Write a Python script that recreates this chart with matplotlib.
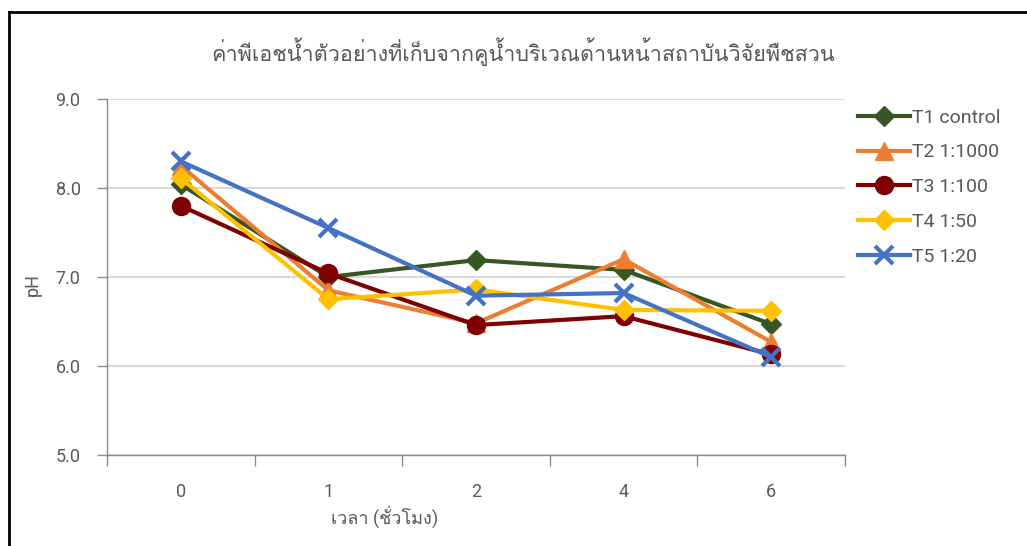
import matplotlib
matplotlib.use("Agg")
import matplotlib.pyplot as plt
from matplotlib import font_manager as fm
from matplotlib.ft2font import FT2Font
from matplotlib.lines import Line2D

# ---------------- data ----------------
categories = ["0", "1", "2", "4", "6"]
series_names = ["T1 control", "T2 1:1000", "T3 1:100", "T4 1:50", "T5 1:20"]
t1_control = [8.04, 7.00, 7.19, 7.08, 6.47]
t2_1000 = [8.25, 6.85, 6.48, 7.20, 6.27]
t3_100 = [7.80, 7.04, 6.46, 6.56, 6.13]
t4_50 = [8.11, 6.75, 6.86, 6.63, 6.62]
t5_20 = [8.30, 7.55, 6.79, 6.82, 6.10]
title_text = "ค่าพีเอชน้ำตัวอย่างที่เก็บจากคูน้ำบริเวณด้านหน้าสถาบันวิจัยพืชสวน"
xlabel_text = "เวลา (ชั่วโมง)"
ylabel_text = "pH"
yticks = [5.0, 6.0, 7.0, 8.0, 9.0]

# ---------------- fonts ----------------
thai_fam = None
for f in fm.fontManager.ttflist:
    try:
        cmap = FT2Font(f.fname).get_charmap()
    except Exception:
        continue
    if 0x0E04 in cmap and 0x0E49 in cmap and 0x0E33 in cmap:
        thai_fam = f.name
        break
fams = ["Roboto"]
if thai_fam:
    fams.append(thai_fam)
fams.append("DejaVu Sans")
plt.rcParams["font.family"] = fams

GRAY = "#595959"
AX_GRAY = "#8c8c8c"
GRID = "#d9d9d9"

fig = plt.figure(figsize=(10.27, 5.46), dpi=100)
ax = fig.add_axes([107 / 1027, 1 - 455 / 546, 738 / 1027, 356 / 546])

styles = [
    dict(color="#375623", marker="D", ms=10),
    dict(color="#ED7D31", marker="^", ms=13),
    dict(color="#7F0000", marker="o", ms=13),
    dict(color="#FFC000", marker="D", ms=10),
    dict(color="#4472C4", marker="x", ms=13, mew=3),
]
data = [t1_control, t2_1000, t3_100, t4_50, t5_20]
xs = list(range(len(categories)))
handles = []
for i, (name, vals, st) in enumerate(zip(series_names, data, styles)):
    kw = dict(st)
    mew = kw.pop("mew", 1)
    h, = ax.plot(xs, vals, color=kw["color"], marker=kw["marker"], ms=kw["ms"],
                 mec=kw["color"], mfc=kw["color"], mew=mew, lw=3, label=name,
                 zorder=3 + i, solid_joinstyle="round", clip_on=False)
    handles.append(h)

ax.set_xlim(-0.5, len(categories) - 0.5)
ax.set_ylim(5.0, 9.0)
ax.set_yticks(yticks)
ax.set_yticklabels([f"{v:.1f}" for v in yticks])
ax.set_xticks(xs)
ax.set_xticklabels(categories)
ax.set_xticks([x - 0.5 for x in range(len(categories) + 1)], minor=True)
ax.tick_params(axis="x", which="major", length=0, pad=20, labelsize=13, labelcolor=GRAY)
ax.tick_params(axis="x", which="minor", length=8, width=1, color=AX_GRAY, direction="out")
ax.tick_params(axis="y", which="major", length=7, width=1, color=AX_GRAY, direction="out",
               labelsize=13, labelcolor=GRAY, pad=12)
ax.yaxis.grid(True, color=GRID, lw=1.5)
ax.set_axisbelow(True)
for s in ["top", "right"]:
    ax.spines[s].set_visible(False)
ax.spines["left"].set_color(AX_GRAY)
ax.spines["bottom"].set_color(AX_GRAY)
ax.spines["left"].set_linewidth(1)
ax.spines["bottom"].set_linewidth(1)

ax.set_xlabel(xlabel_text, fontsize=13, color=GRAY)
ax.xaxis.set_label_coords((385 - 107) / 738, (455 - 506) / 356)
ax.set_ylabel(ylabel_text, fontsize=13, color=GRAY)
ax.yaxis.set_label_coords((42 - 107) / 738, (455 - 285) / 356)

fig.text(523 / 1027, 1 - 52 / 546, title_text, ha="center", va="center",
         fontsize=15.5, color=GRAY)

leg = fig.legend(handles=handles, loc="upper left", bbox_to_anchor=(848 / 1027, 1 - 99 / 546),
                 frameon=False, fontsize=14, labelcolor=GRAY, handlelength=2.7,
                 labelspacing=0.86, handletextpad=0.1, borderpad=0)

# outer border lines (top and left)
fig.add_artist(Line2D([9 / 1027, 1.0], [1 - 12 / 546, 1 - 12 / 546], color="black", lw=2))
fig.add_artist(Line2D([9 / 1027, 9 / 1027], [0, 1 - 12 / 546], color="black", lw=2))

fig.savefig("out.png", dpi=100)
